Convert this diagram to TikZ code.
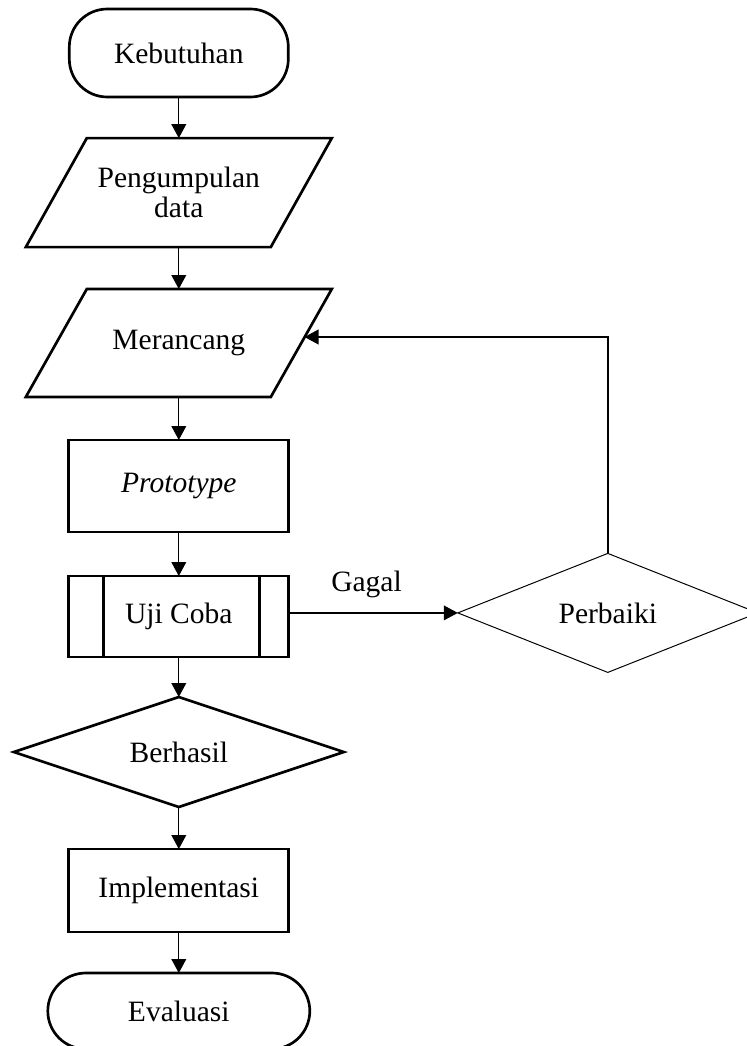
\documentclass[tikz,border=0pt]{standalone}
\usepackage{fontspec}
\setmainfont{Liberation Serif}
\usepackage{tikz}
\usetikzlibrary{shapes.geometric, arrows.meta, positioning, calc}
\tikzstyle{arrow} = [line width=0.9pt,-{Triangle[length=3.5mm,width=3.7mm]}]
\tikzstyle{line} = [line width=1.9pt, line join=miter]
\tikzstyle{basic} = [text centered, draw=black, line width=1.9pt, fill=white, text=black, outer sep=0pt, inner sep=0pt, font=\fontsize{21}{21.5}\selectfont]
\tikzstyle{startstop} = [rectangle, rounded corners=9.5mm, minimum width=54.75mm, minimum height=22mm]
\tikzstyle{io} = [rectangle, draw=none, fill=none, minimum width=61.25mm, align=center]
\tikzstyle{process} = [rectangle, minimum width=55mm]
\tikzstyle{decision} = [diamond, aspect=3]
\tikzstyle{edgetext} = [text=black, inner sep=0pt, font=\fontsize{21}{21.5}\selectfont]

\begin{document}
\begin{tikzpicture}[node distance=0mm]
\useasboundingbox (0,0) rectangle (186.75mm,-261.5mm);

\node (keb) [basic, startstop] at (44.7mm,-13.25mm) {Kebutuhan};
\node (peng) [basic, io, minimum height=27.25mm, yshift=-23.9mm] at(keb.south) {Pengumpulan\\data};
\node (mer) [basic, io, minimum height=27mm, yshift=-37.6mm] at(peng.center) {Merancang};
\node (proto) [basic, process, minimum height=23mm, anchor=north, yshift=-24.25mm] at(mer.center) {\textit{Prototype}};
\node (uji) [basic, process, minimum height=20.25mm, anchor=north, yshift=-11mm] at(proto.south) {Uji Coba};
\node (ber) [basic, decision, minimum width=82.5mm, minimum height=27.5mm, anchor=north, yshift=-10mm] at(uji.south) {Berhasil};
\node (impl) [basic, process, minimum height=20.75mm, anchor=north, yshift=-10.5mm] at(ber.south) {Implementasi};
\node (eva) [basic, startstop, minimum width=65.5mm, minimum height=19mm, anchor=north, yshift=-10.25mm] at(impl.south) {Evaluasi};

\node (perb) [basic, decision, line width=0.7pt, minimum width=75mm, minimum height=29.75mm, anchor=west, xshift=42.25mm, yshift=0.9mm] at(uji.east) {Perbaiki};

% slanted input/output boxes
\draw [line] ($(peng.north west)+(7.625mm,0)$) -- ($(peng.north east)+(7.625mm,0)$) -- ($(peng.south east)+(-7.625mm,0)$) -- ($(peng.south west)+(-7.625mm,0)$) -- cycle;
\draw [line] ($(mer.north west)+(7.625mm,0)$) -- ($(mer.north east)+(7.625mm,0)$) -- ($(mer.south east)+(-7.625mm,0)$) -- ($(mer.south west)+(-7.625mm,0)$) -- cycle;

% sides of the predefined process
\draw [line] ($(uji.north west)+(8.75mm,0)$) -- ($(uji.south west)+(8.75mm,0)$);
\draw [line] ($(uji.north east)+(-7.25mm,0)$) -- ($(uji.south east)+(-7.25mm,0)$);

\draw [arrow] (keb) -- (peng);
\draw [arrow] (peng) -- (mer);
\draw [arrow] (mer) -- (proto);
\draw [arrow] (proto) -- (uji);
\draw [arrow] (uji) -- (ber);
\draw [arrow] (ber) -- (impl);
\draw [arrow] (impl) -- (eva);

\draw [arrow] (uji.east |- perb.west) -- (perb.west);
\node (gagal) [edgetext] at ($(uji.east)!0.46!(perb.west)+(0,7.6mm)$) {Gagal};

\draw [arrow, line width=1pt] (perb.north) |- ([xshift=0.8mm,yshift=1.5mm]mer.east);

\end{tikzpicture}
\end{document}
